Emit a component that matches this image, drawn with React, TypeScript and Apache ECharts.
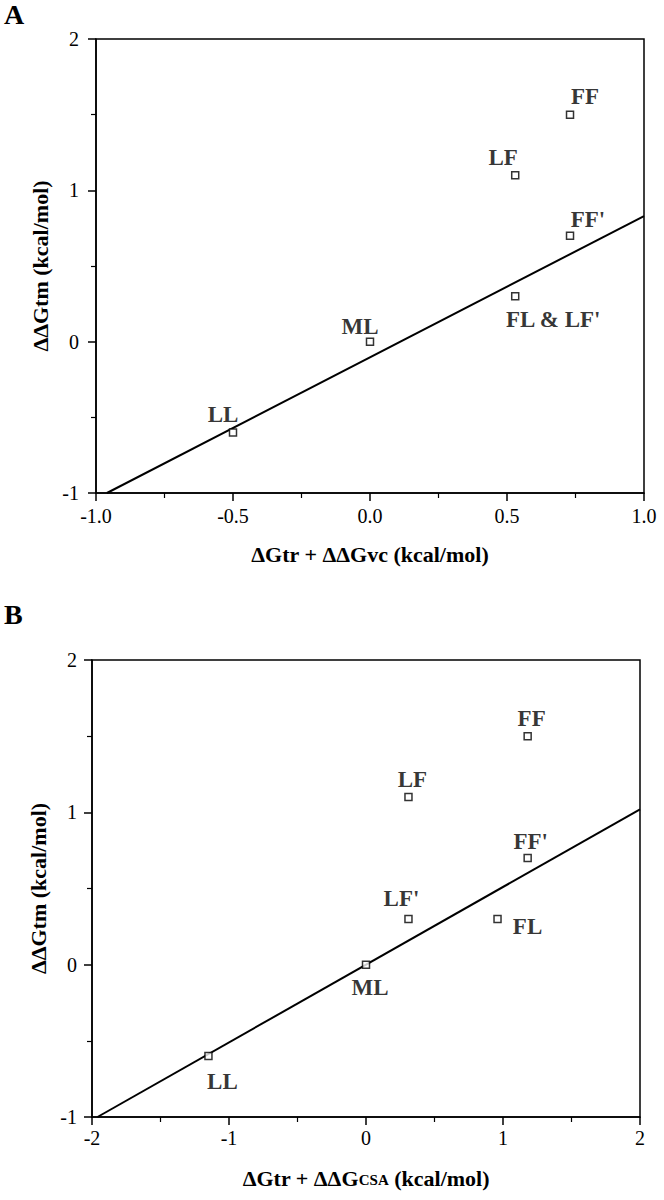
import React, { useEffect, useRef } from "react";
import * as echarts from "echarts";

// ---- Panel A data ----
const namesA = ["FF", "LF", "FF'", "FL & LF'", "ML", "LL"];
const xA = [0.73, 0.53, 0.73, 0.53, 0.0, -0.5];
const yA = [1.5, 1.1, 0.7, 0.3, 0.0, -0.6];
const fitAx = [-0.96, 1.0];
const fitAy = [-1.0, 0.83];
const xTicksA = ["-1.0", "-0.5", "0.0", "0.5", "1.0"];
const yTicksA = ["-1", "0", "1", "2"];

// ---- Panel B data ----
const namesB = ["FF", "LF", "FF'", "LF'", "FL", "ML", "LL"];
const xB = [1.18, 0.31, 1.18, 0.31, 0.96, 0.0, -1.15];
const yB = [1.5, 1.1, 0.7, 0.3, 0.3, 0.0, -0.6];
const fitBx = [-1.96, 2.0];
const fitBy = [-1.0, 1.02];
const xTicksB = ["-2", "-1", "0", "1", "2"];
const yTicksB = ["-1", "0", "1", "2"];

// ---- label placement (layout, not data) ----
const offA: Record<string, [number, number]> = {
  FF: [15, -18],
  LF: [-12, -18],
  "FF'": [18, -16],
  "FL & LF'": [38, 23],
  ML: [-10, -15],
  LL: [-10, -18],
};
const offB: Record<string, [number, number]> = {
  FF: [4, -18],
  LF: [4, -18],
  "FF'": [3, -17],
  "LF'": [-7, -20],
  FL: [30, 8],
  ML: [4, 23],
  LL: [14, 25],
};

const SERIF = "Liberation Serif";

function axisBase() {
  return {
    type: "value" as const,
    axisLine: { show: true, onZero: false, lineStyle: { color: "#000", width: 1.5 } },
    axisTick: { show: true, inside: false, length: 8, lineStyle: { color: "#000", width: 1.5 } },
    minorTick: { show: true, splitNumber: 2, length: 5, lineStyle: { color: "#000", width: 1.2 } },
    splitLine: { show: false },
    minorSplitLine: { show: false },
  };
}

function tickFmt(labels: string[], min: number, interval: number) {
  return (v: number) => labels[Math.round((v - min) / interval)] ?? "";
}

export default function App() {
  const ref = useRef<HTMLDivElement>(null);
  useEffect(() => {
    if (!ref.current) return;
    const chart = echarts.init(ref.current, undefined, { renderer: "svg" });
    const labelStyle = {
      show: true,
      position: "inside",
      align: "center",
      verticalAlign: "middle",
      color: "#000",
      fontFamily: SERIF,
      fontWeight: "bold",
      fontSize: 23,
    };
    const mkPts = (names: string[], xs: number[], ys: number[], off: Record<string, [number, number]>) =>
      names.map((n, i) => ({
        name: n,
        value: [xs[i], ys[i]],
        label: { ...labelStyle, formatter: n, offset: off[n] },
      }));
    const tickLabel = (extra: any) => ({
      color: "#000",
      fontFamily: SERIF,
      fontSize: 20,
      ...extra,
    });
    const titleStyle = {
      color: "#000",
      fontFamily: SERIF,
      fontWeight: "bold",
      fontSize: 22,
    };
    const option: any = {
      animation: false,
      backgroundColor: "#fff",
      textStyle: { fontFamily: SERIF },
      grid: [
        { left: 96, top: 39, width: 548, height: 454, show: true, borderColor: "#000", borderWidth: 1.5, backgroundColor: "transparent" },
        { left: 92, top: 660, width: 548, height: 457, show: true, borderColor: "#000", borderWidth: 1.5, backgroundColor: "transparent" },
      ],
      xAxis: [
        {
          ...axisBase(),
          gridIndex: 0,
          min: -1,
          max: 1,
          interval: 0.5,
          axisLabel: tickLabel({ margin: 13, formatter: tickFmt(xTicksA, -1, 0.5) }),
          name: "ΔGtr + ΔΔGvc (kcal/mol)",
          nameLocation: "middle",
          nameGap: 50,
          nameTextStyle: titleStyle,
        },
        {
          ...axisBase(),
          gridIndex: 1,
          min: -2,
          max: 2,
          interval: 1,
          axisLabel: tickLabel({ margin: 11, formatter: tickFmt(xTicksB, -2, 1) }),
          name: "ΔGtr + ΔΔG{s|CSA} (kcal/mol)",
          nameLocation: "middle",
          nameGap: 50,
          nameTextStyle: {
            ...titleStyle,
            rich: { s: { fontFamily: SERIF, fontWeight: "bold", fontSize: 15, color: "#000", verticalAlign: "bottom", padding: [0, 0, 2, 0] } },
          },
        },
      ],
      yAxis: [
        {
          ...axisBase(),
          gridIndex: 0,
          min: -1,
          max: 2,
          interval: 1,
          axisLabel: tickLabel({ margin: 17, formatter: tickFmt(yTicksA, -1, 1) }),
          name: "ΔΔGtm (kcal/mol)",
          nameLocation: "middle",
          nameRotate: 90,
          nameGap: 45,
          nameTextStyle: titleStyle,
        },
        {
          ...axisBase(),
          gridIndex: 1,
          min: -1,
          max: 2,
          interval: 1,
          axisLabel: tickLabel({ margin: 15, formatter: tickFmt(yTicksB, -1, 1) }),
          name: "ΔΔGtm (kcal/mol)",
          nameLocation: "middle",
          nameRotate: 90,
          nameGap: 43,
          nameTextStyle: titleStyle,
        },
      ],
      series: [
        {
          type: "line",
          xAxisIndex: 0,
          yAxisIndex: 0,
          data: fitAx.map((x, i) => [x, fitAy[i]]),
          showSymbol: false,
          silent: true,
          lineStyle: { color: "#000", width: 2 },
          z: 1,
        },
        {
          type: "line",
          xAxisIndex: 1,
          yAxisIndex: 1,
          data: fitBx.map((x, i) => [x, fitBy[i]]),
          showSymbol: false,
          silent: true,
          lineStyle: { color: "#000", width: 2 },
          z: 1,
        },
        {
          type: "scatter",
          xAxisIndex: 0,
          yAxisIndex: 0,
          symbol: "rect",
          symbolSize: 7,
          itemStyle: { color: "#fff", borderColor: "#000", borderWidth: 1.5 },
          data: mkPts(namesA, xA, yA, offA),
          z: 3,
        },
        {
          type: "scatter",
          xAxisIndex: 1,
          yAxisIndex: 1,
          symbol: "rect",
          symbolSize: 7,
          itemStyle: { color: "#fff", borderColor: "#000", borderWidth: 1.5 },
          data: mkPts(namesB, xB, yB, offB),
          z: 3,
        },
      ],
      graphic: [
        {
          type: "text",
          left: 4,
          top: 0,
          style: { text: "A", fill: "#000", font: "bold 28px Liberation Serif" },
        },
        {
          type: "text",
          left: 4,
          top: 600,
          style: { text: "B", fill: "#000", font: "bold 28px Liberation Serif" },
        },
      ],
    };
    chart.setOption(option);
    return () => chart.dispose();
  }, []);
  return (
    <div
      ref={ref}
      style={{ position: "absolute", left: 0, top: 0, width: 664, height: 1200, background: "#fff" }}
    />
  );
}
